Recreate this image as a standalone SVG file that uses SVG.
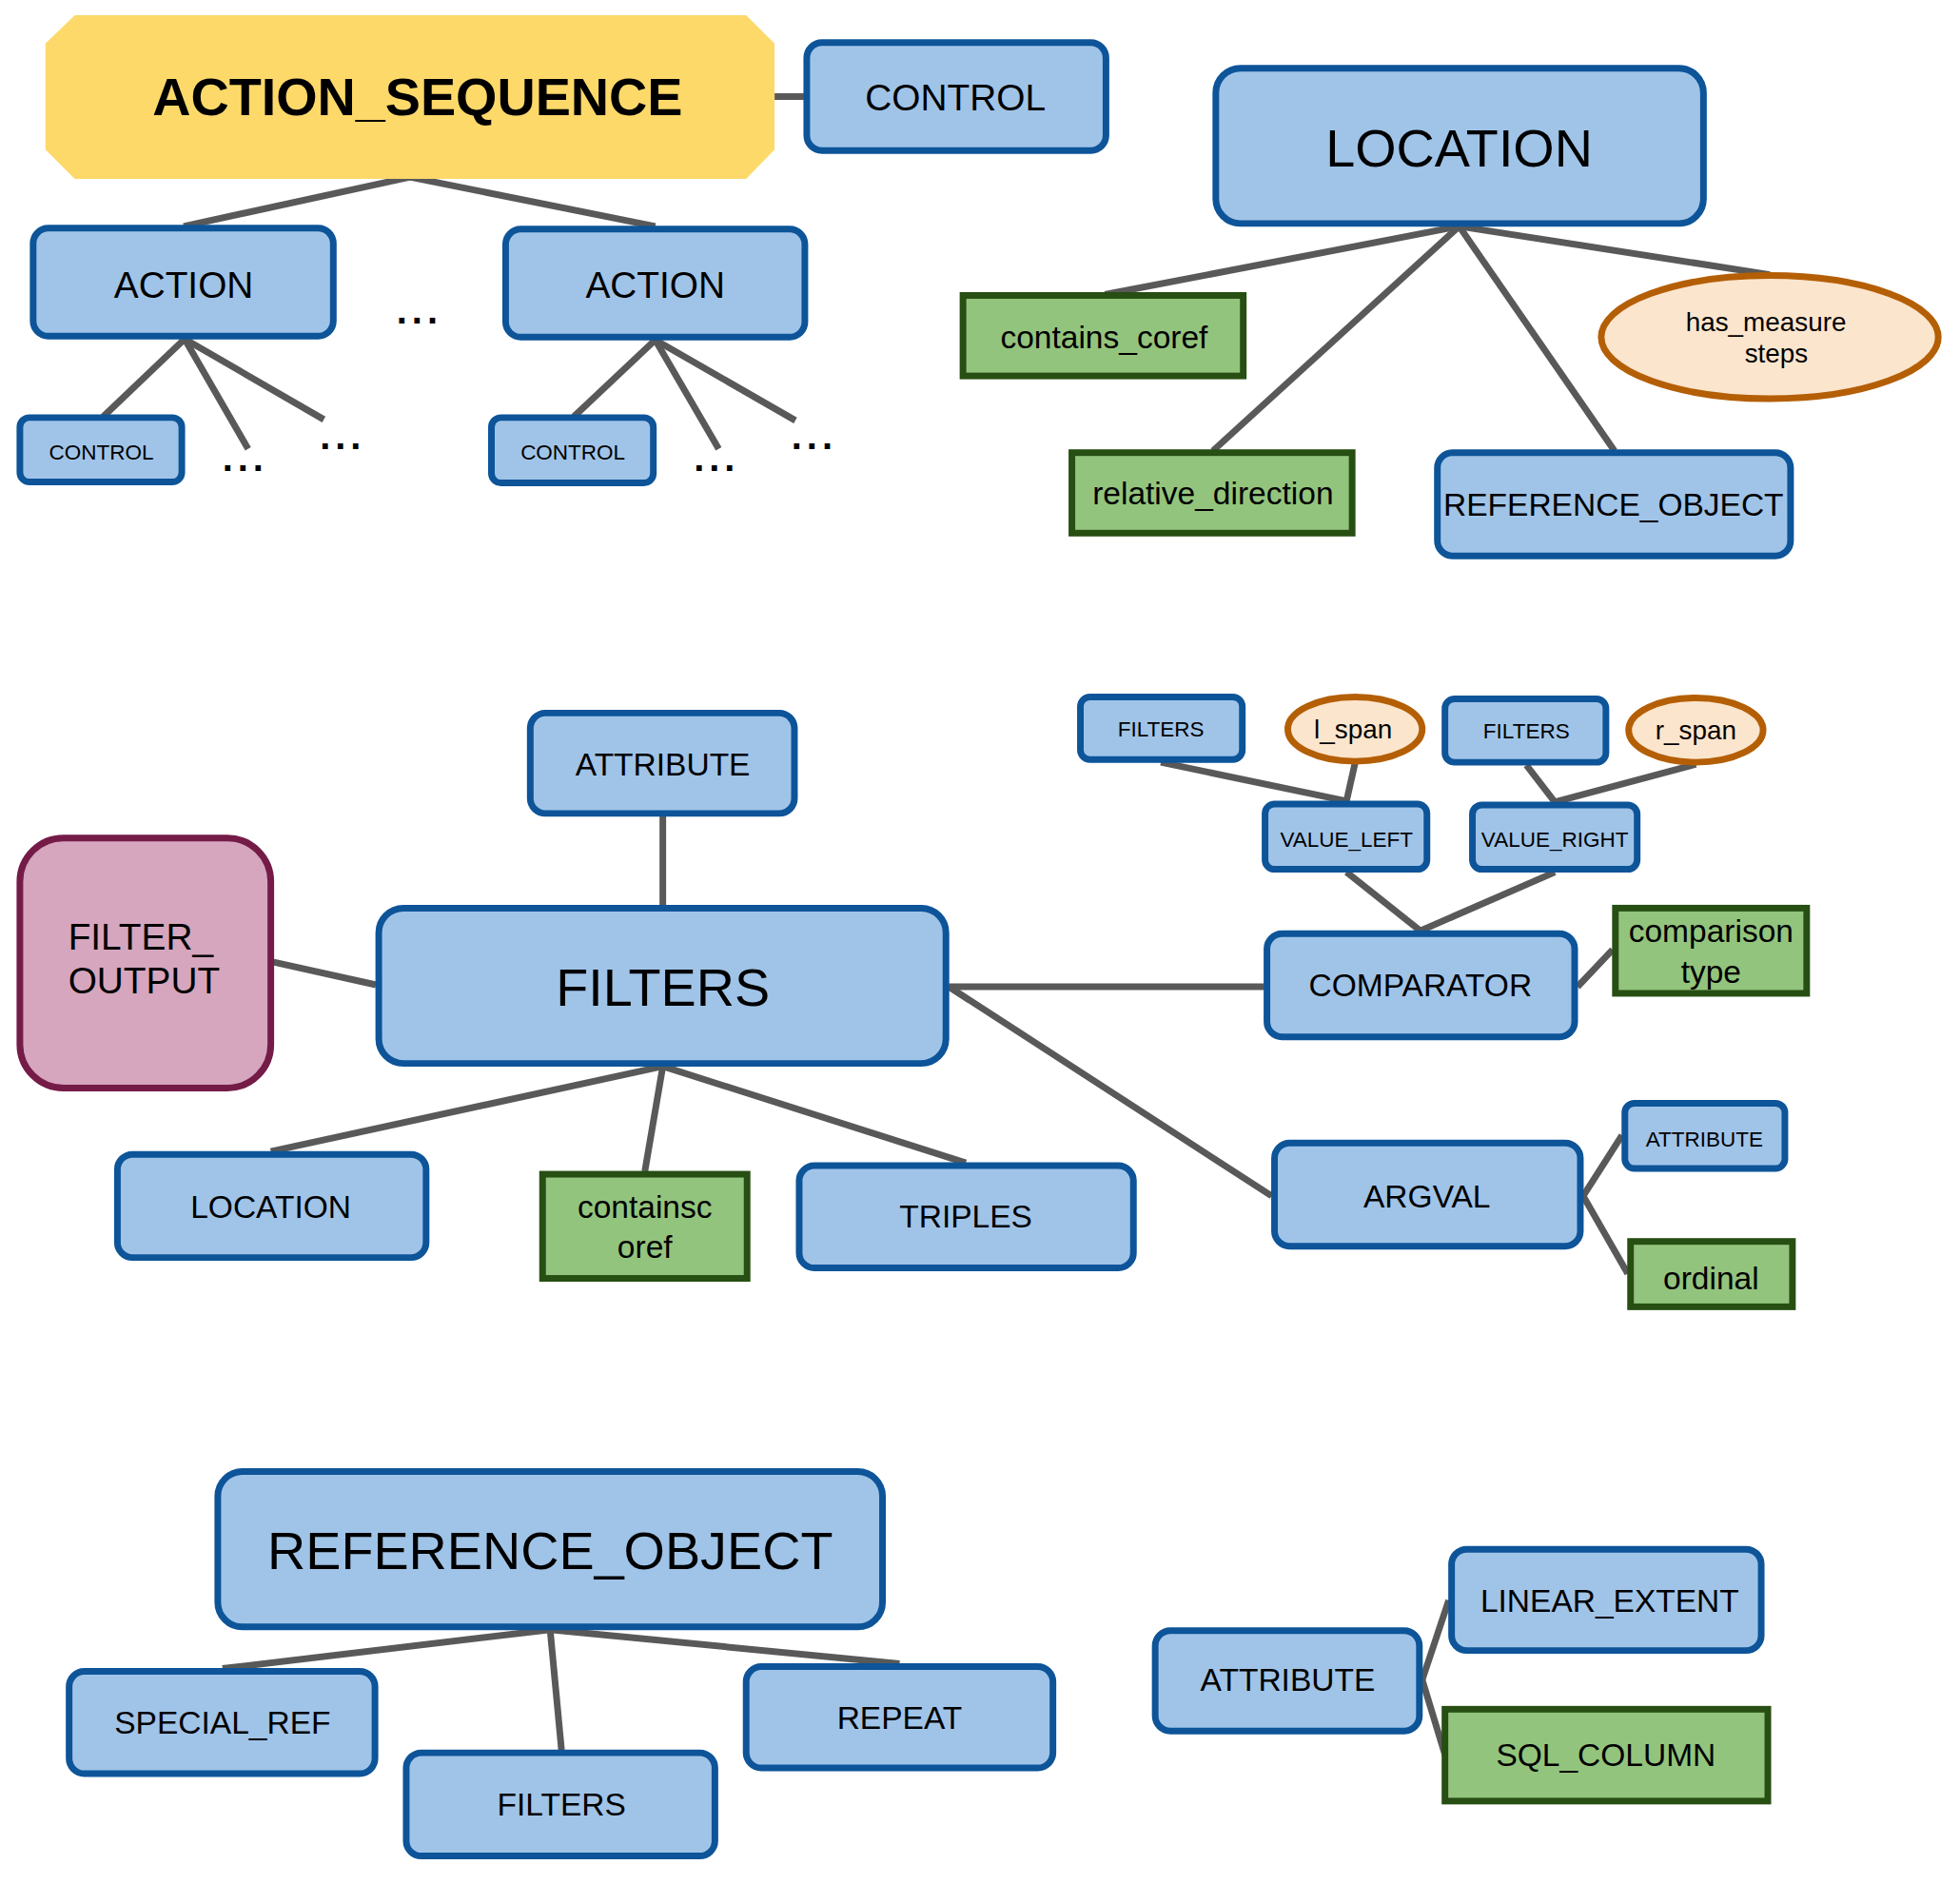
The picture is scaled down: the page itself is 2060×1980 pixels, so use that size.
<svg xmlns="http://www.w3.org/2000/svg" width="2060" height="1980" viewBox="0 0 2060 1980">
<style>
text{font-family:"Liberation Sans",Arial,sans-serif;fill:#000;text-anchor:middle}
.b{fill:#A0C4E8;stroke:#0D5499;stroke-width:7}
.g{fill:#93C47D;stroke:#274E13;stroke-width:7}
.e{fill:#FCE5CD;stroke:#B45F06;stroke-width:7}
.p{fill:#D5A6BD;stroke:#741B47;stroke-width:7}
.c line{stroke:#595959;stroke-width:7;stroke-linecap:butt}
.s{font-size:22.6px}.m{font-size:33.7px}.l{font-size:39px}.x{font-size:56px}.t{font-size:28px}
.d{font-size:40px;font-weight:bold;letter-spacing:5px}
</style>
<rect width="2060" height="1980" fill="#fff"/>
<g transform="scale(0.9952)">
<g class="c">
<line x1="818" y1="102" x2="849" y2="102"/>
<line x1="433" y1="187" x2="194" y2="239"/>
<line x1="433" y1="187" x2="692" y2="239"/>
<line x1="195" y1="358" x2="109" y2="440"/>
<line x1="195" y1="358" x2="262" y2="474"/>
<line x1="195" y1="358" x2="342" y2="443"/>
<line x1="692" y1="359" x2="606" y2="440"/>
<line x1="692" y1="359" x2="759" y2="474"/>
<line x1="692" y1="359" x2="840" y2="444"/>
<line x1="1541" y1="239" x2="1167" y2="311"/>
<line x1="1541" y1="239" x2="1281" y2="476"/>
<line x1="1541" y1="239" x2="1705" y2="476"/>
<line x1="1541" y1="239" x2="1869" y2="290"/>
<line x1="700" y1="862" x2="700" y2="956"/>
<line x1="289" y1="1016" x2="397" y2="1040"/>
<line x1="1002" y1="1042" x2="1335" y2="1042"/>
<line x1="1002" y1="1042" x2="1343" y2="1263"/>
<line x1="700" y1="1126" x2="286" y2="1216"/>
<line x1="700" y1="1126" x2="681" y2="1237"/>
<line x1="700" y1="1126" x2="1020" y2="1228"/>
<line x1="1666" y1="1042" x2="1703" y2="1003"/>
<line x1="1422" y1="921" x2="1500" y2="983"/>
<line x1="1642" y1="921" x2="1500" y2="983"/>
<line x1="1226" y1="805" x2="1422" y2="846"/>
<line x1="1431" y1="806" x2="1422" y2="846"/>
<line x1="1612" y1="808" x2="1642" y2="847"/>
<line x1="1791" y1="807" x2="1642" y2="847"/>
<line x1="1672" y1="1263" x2="1713" y2="1199"/>
<line x1="1672" y1="1263" x2="1719" y2="1345"/>
<line x1="581" y1="1721" x2="235" y2="1762"/>
<line x1="581" y1="1721" x2="593" y2="1848"/>
<line x1="581" y1="1721" x2="950" y2="1757"/>
<line x1="1502" y1="1774" x2="1530" y2="1690"/>
<line x1="1502" y1="1774" x2="1526" y2="1853"/>
</g>
<g id="action_sequence"><polygon points="79,16 788,16 818,46 818,158 788,189 79,189 48,158 48,46" fill="#FDD96A"/><text x="441" y="122" class="x" font-weight="bold">ACTION_SEQUENCE</text></g>
<g id="control_top"><rect class="b" x="852" y="45" width="316" height="114" rx="16"/><text x="1009" y="117" class="l">CONTROL</text></g>
<g id="action1"><rect class="b" x="35" y="241" width="317" height="114" rx="16"/><text x="194" y="315" class="l">ACTION</text></g>
<g id="action2"><rect class="b" x="534" y="242" width="316" height="114" rx="16"/><text x="692" y="315" class="l">ACTION</text></g>
<g id="dots_mid"><text x="443" y="342" class="d">...</text></g>
<g id="control1"><rect class="b" x="21" y="441" width="171" height="68" rx="10"/><text x="107" y="485" class="s">CONTROL</text></g>
<g id="control2"><rect class="b" x="519" y="441" width="171" height="69" rx="10"/><text x="605" y="485" class="s">CONTROL</text></g>
<g id="dots1a"><text x="259" y="497" class="d">...</text></g>
<g id="dots1b"><text x="362" y="474" class="d">...</text></g>
<g id="dots2a"><text x="757" y="497" class="d">...</text></g>
<g id="dots2b"><text x="860" y="474" class="d">...</text></g>
<g id="location_top"><rect class="b" x="1284" y="72" width="515" height="164" rx="26"/><text x="1541" y="176" class="x">LOCATION</text></g>
<g id="contains_coref"><rect class="g" x="1017" y="312" width="296" height="85"/><text x="1166" y="368" class="m">contains_coref</text></g>
<g id="relative_direction"><rect class="g" x="1132" y="478" width="296" height="85"/><text x="1281" y="533" class="m">relative_direction</text></g>
<g id="ref_obj_small"><rect class="b" x="1518" y="478" width="373" height="109" rx="16"/><text x="1704" y="545" class="m">REFERENCE_OBJECT</text></g>
<g id="has_measure"><ellipse class="e" cx="1869" cy="356" rx="178" ry="65"/><text x="1865" y="350" class="t">has_measure</text><text x="1876" y="383" class="t">steps</text></g>
<g id="attribute_mid"><rect class="b" x="560" y="753" width="279" height="106" rx="16"/><text x="700" y="819" class="m">ATTRIBUTE</text></g>
<g id="filter_output"><rect class="p" x="21" y="885" width="265" height="264" rx="46"/><text x="72" y="1003" class="l" style="text-anchor:start">FILTER_</text><text x="72" y="1049" class="l" style="text-anchor:start">OUTPUT</text></g>
<g id="filters_big"><rect class="b" x="400" y="959" width="599" height="164" rx="26"/><text x="700" y="1062" class="x">FILTERS</text></g>
<g id="location_mid"><rect class="b" x="124" y="1219" width="326" height="109" rx="16"/><text x="286" y="1286" class="m">LOCATION</text></g>
<g id="containscoref"><rect class="g" x="573" y="1240" width="216" height="110"/><text x="681" y="1286" class="m">containsc</text><text x="681" y="1328" class="m">oref</text></g>
<g id="triples"><rect class="b" x="844" y="1231" width="353" height="108" rx="16"/><text x="1020" y="1296" class="m">TRIPLES</text></g>
<g id="comparator"><rect class="b" x="1338" y="986" width="325" height="109" rx="16"/><text x="1500" y="1052" class="m">COMPARATOR</text></g>
<g id="comparison_type"><rect class="g" x="1706" y="959" width="202" height="90"/><text x="1807" y="995" class="m">comparison</text><text x="1807" y="1038" class="m">type</text></g>
<g id="value_left"><rect class="b" x="1336" y="849" width="171" height="69" rx="10"/><text x="1422" y="894" class="s">VALUE_LEFT</text></g>
<g id="value_right"><rect class="b" x="1555" y="850" width="174" height="68" rx="10"/><text x="1642" y="894" class="s">VALUE_RIGHT</text></g>
<g id="filters_l"><rect class="b" x="1141" y="736" width="171" height="66" rx="10"/><text x="1226" y="778" class="s">FILTERS</text></g>
<g id="l_span"><ellipse class="e" cx="1431" cy="770" rx="71" ry="34"/><text x="1429" y="780" class="t">l_span</text></g>
<g id="filters_r"><rect class="b" x="1526" y="738" width="170" height="67" rx="10"/><text x="1612" y="780" class="s">FILTERS</text></g>
<g id="r_span"><ellipse class="e" cx="1791" cy="771" rx="71" ry="34"/><text x="1791" y="781" class="t">r_span</text></g>
<g id="argval"><rect class="b" x="1346" y="1207" width="323" height="109" rx="16"/><text x="1507" y="1275" class="m">ARGVAL</text></g>
<g id="attribute_small"><rect class="b" x="1716" y="1165" width="169" height="69" rx="10"/><text x="1800" y="1211" class="s">ATTRIBUTE</text></g>
<g id="ordinal"><rect class="g" x="1722" y="1311" width="171" height="69"/><text x="1807" y="1362" class="m">ordinal</text></g>
<g id="ref_obj_big"><rect class="b" x="230" y="1554" width="702" height="164" rx="26"/><text x="581" y="1657" class="x">REFERENCE_OBJECT</text></g>
<g id="special_ref"><rect class="b" x="73" y="1765" width="323" height="108" rx="16"/><text x="235" y="1831" class="m">SPECIAL_REF</text></g>
<g id="filters_bottom"><rect class="b" x="429" y="1851" width="326" height="109" rx="16"/><text x="593" y="1917" class="m">FILTERS</text></g>
<g id="repeat"><rect class="b" x="788" y="1760" width="324" height="107" rx="16"/><text x="950" y="1826" class="m">REPEAT</text></g>
<g id="attribute_bottom"><rect class="b" x="1220" y="1722" width="279" height="106" rx="16"/><text x="1360" y="1786" class="m">ATTRIBUTE</text></g>
<g id="linear_extent"><rect class="b" x="1533" y="1636" width="327" height="107" rx="16"/><text x="1700" y="1702" class="m">LINEAR_EXTENT</text></g>
<g id="sql_column"><rect class="g" x="1526" y="1805" width="341" height="97"/><text x="1696" y="1865" class="m">SQL_COLUMN</text></g>
</g>
</svg>
